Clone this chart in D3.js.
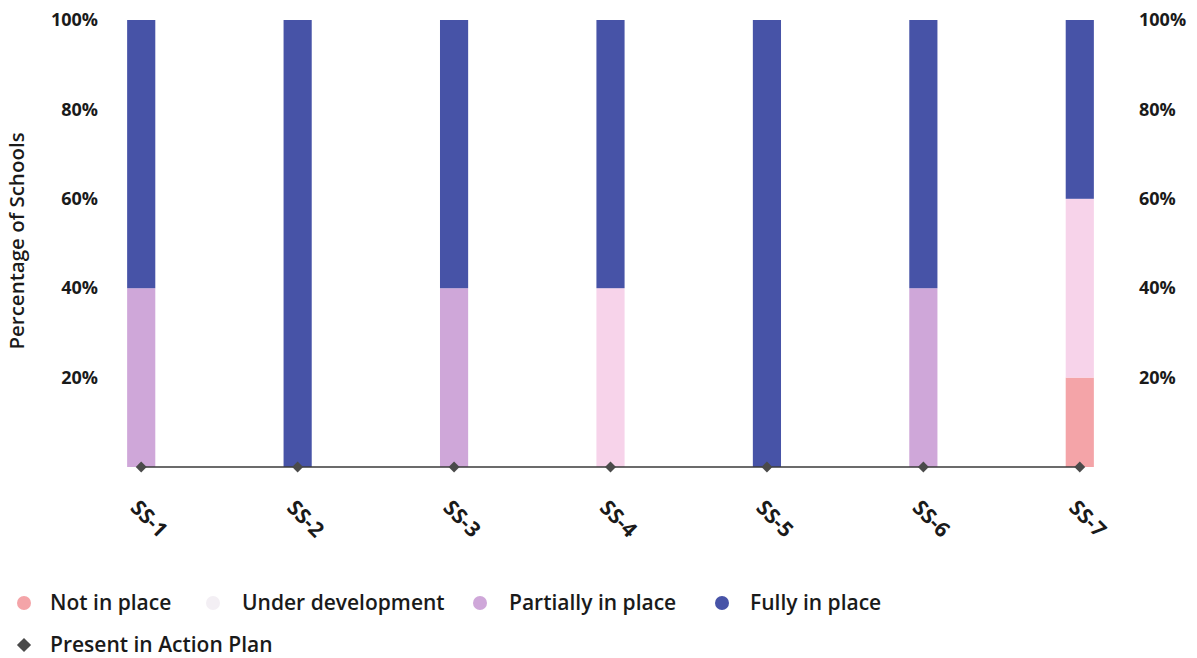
<!DOCTYPE html>
<html><head><meta charset="utf-8">
<script src="https://cdn.jsdelivr.net/npm/d3@7"></script>
<style>body{margin:0;background:#fff;} svg{display:block;font-family:"Open Sans",sans-serif;}</style>
</head><body><svg id="c" width="1197" height="658"></svg>
<script>
const categories = ["SS-1","SS-2","SS-3","SS-4","SS-5","SS-6","SS-7"];
const notInPlace = [0,0,0,0,0,0,20];
const underDevelopment = [0,0,0,40,0,0,40];
const partiallyInPlace = [40,0,40,0,0,40,0];
const fullyInPlace = [60,100,60,60,100,60,40];
const presentInActionPlan = [0,0,0,0,0,0,0];
const yTicks = [20,40,60,80,100];
const seriesNames = ["Not in place","Under development","Partially in place","Fully in place"];
const seriesColors = ["#f4a4a8","#f7d3ea","#cfa7d9","#4753a7"];
const legendDotColors = ["#f4a4a8","#f3eff4","#cfa7d9","#4753a7"];

const svg = d3.select("#c");
const x = d3.scaleBand().domain(categories).range([63,1158]).paddingInner(0.82).paddingOuter(0.41);
const y = d3.scaleLinear().domain([0,100]).range([467,20]);

const rows = categories.map((c,i)=>({cat:c, "Not in place":notInPlace[i], "Under development":underDevelopment[i], "Partially in place":partiallyInPlace[i], "Fully in place":fullyInPlace[i]}));
const stack = d3.stack().keys(seriesNames)(rows);

svg.append("g").selectAll("g").data(stack).join("g")
  .attr("fill",(d,i)=>seriesColors[i])
  .selectAll("rect").data(d=>d).join("rect")
  .attr("x",d=>x(d.data.cat)).attr("width",x.bandwidth())
  .attr("y",d=>y(d[1])).attr("height",d=>y(d[0])-y(d[1]));

// axes labels
const leftAxis = svg.append("g").attr("transform","translate(98,0)")
  .call(d3.axisLeft(y).tickValues(yTicks).tickFormat(d=>d+"%").tickSize(0).tickPadding(0));
leftAxis.select(".domain").remove();
const rightAxis = svg.append("g").attr("transform","translate(1139,0)")
  .call(d3.axisRight(y).tickValues(yTicks).tickFormat(d=>d+"%").tickSize(0).tickPadding(0));
rightAxis.select(".domain").remove();
svg.selectAll(".tick text").attr("font-family","Open Sans").attr("font-size",18).attr("font-weight",700).attr("fill","#1a1a1a");

svg.append("text").attr("transform","translate(24,241) rotate(-90)").attr("text-anchor","middle")
  .attr("font-size",20.5).attr("font-weight",600).attr("fill","#1a1a1a").text("Percentage of Schools");

// x labels
svg.append("g").selectAll("text").data(categories).join("text")
  .attr("transform",d=>`translate(${x(d)+x.bandwidth()/2-12},${509}) rotate(45)`)
  .attr("font-size",21).attr("font-weight",700).attr("fill","#1a1a1a").text(d=>d);

// line series
const cx = d=>x(d)+x.bandwidth()/2;
svg.append("path").datum(categories)
  .attr("d",d3.line().x(d=>cx(d)).y((d,i)=>y(presentInActionPlan[i])))
  .attr("fill","none").attr("stroke","#3a3a3a").attr("stroke-width",1.3);
svg.append("g").selectAll("path").data(categories).join("path")
  .attr("d",d3.symbol(d3.symbolSquare,60))
  .attr("transform",(d,i)=>`translate(${cx(d)},${y(presentInActionPlan[i])}) rotate(45)`)
  .attr("fill","#4a4a4a");

// legend
const legendItems = [
  {name:seriesNames[0], dot:legendDotColors[0], cx:24, tx:50, yy:603},
  {name:seriesNames[1], dot:legendDotColors[1], cx:213, tx:242, yy:603},
  {name:seriesNames[2], dot:legendDotColors[2], cx:480, tx:509, yy:603},
  {name:seriesNames[3], dot:legendDotColors[3], cx:722, tx:750, yy:603}
];
const lg = svg.append("g");
legendItems.forEach(it=>{
  lg.append("circle").attr("cx",it.cx).attr("cy",it.yy).attr("r",7).attr("fill",it.dot);
  lg.append("text").attr("x",it.tx).attr("y",it.yy).attr("dy","0.35em").attr("font-size",21).attr("font-weight",600).attr("fill","#1a1a1a").text(it.name);
});
lg.append("path").attr("d",d3.symbol(d3.symbolSquare,100)).attr("transform","translate(24,645) rotate(45)").attr("fill","#4a4a4a");
lg.append("text").attr("x",50).attr("y",645).attr("dy","0.35em").attr("font-size",21).attr("font-weight",600).attr("fill","#1a1a1a").text("Present in Action Plan");
</script></body></html>
